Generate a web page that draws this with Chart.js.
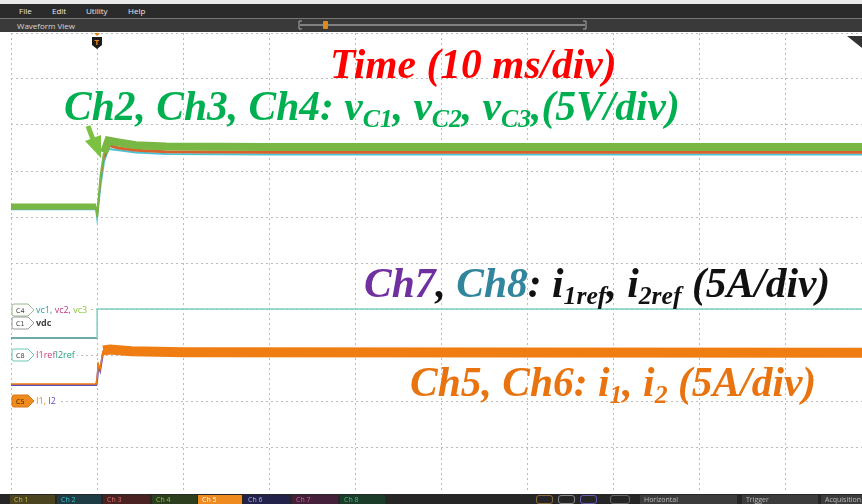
<!DOCTYPE html>
<html>
<head>
<meta charset="utf-8">
<script src="https://cdn.jsdelivr.net/npm/chart.js@4.4.1/dist/chart.umd.min.js"></script>
<style>
  body { margin: 0; width: 862px; height: 504px; overflow: hidden; background: #fff; position: relative; font-family: "Open Sans", "DejaVu Sans", sans-serif; }
  .abs { position: absolute; }
  #topStrip { left: 0; top: 0; width: 862px; height: 4px; background: #e9e9e9; }
  #menuBar { left: 0; top: 4px; width: 862px; height: 14px; background: #2b2b2b; color: #e8e8e8; font-size: 8px; line-height: 14px; }
  #menuBar span { position: absolute; top: 0; }
  #viewBar { left: 0; top: 18px; width: 862px; height: 14px; background: #3a3a3a; border-top: 1px solid #777; box-sizing: border-box; color: #d8d8d8; font-size: 8px; line-height: 13px; }
  #plotBox { left: 11px; top: 33px; width: 851px; height: 460px; }
  #bottomBar { left: 0; top: 494px; width: 862px; height: 10px; background: #262626; font-size: 7px; line-height: 10px; }
  .tab { position: absolute; top: 1px; height: 9px; line-height: 9px; padding-left: 4px; box-sizing: border-box; }
  .note { position: absolute; font-family: "Liberation Serif", "Times New Roman", serif; font-weight: bold; font-style: italic; white-space: nowrap; line-height: 1; font-size: 41.5px; }
  .note sub { font-size: 62%; vertical-align: baseline; position: relative; top: 0.28em; }
  .lbl { position: absolute; font-size: 9px; white-space: nowrap; line-height: 11px; background: #fff; padding-right: 2px; }
</style>
</head>
<body>
<div id="topStrip" class="abs"></div>
<div id="menuBar" class="abs">
  <span style="left:19px">File</span><span style="left:52px">Edit</span><span style="left:86px">Utility</span><span style="left:128px">Help</span>
</div>
<div id="viewBar" class="abs"><span style="position:absolute;left:17px">Waveform View</span></div>

<div id="plotBox" class="abs"><canvas id="scope" width="851" height="460"></canvas></div>

<svg class="abs" style="left:0;top:0" width="862" height="504">
  <!-- zoom slider -->
  <line x1="300" y1="25" x2="585" y2="25" stroke="#9a9a9a" stroke-width="1.5"/>
  <path d="M302 21 H299 V29 H302 M583 21 H586 V29 H583" fill="none" stroke="#aaa" stroke-width="1"/>
  <rect x="323" y="21" width="5" height="8" rx="1" fill="#e08a1c"/>
  <!-- trigger marker -->
  <path d="M94 33 L100 33 L97 36 Z" fill="#e8861a"/>
  <path d="M92 37 H102 V45 L97 49 L92 45 Z" fill="#1b1b1b"/>
  <text x="97" y="44.5" fill="#e8861a" font-size="7" font-weight="bold" text-anchor="middle" font-family="DejaVu Sans">T</text>
  <!-- corner triangle -->
  <path d="M847 36 H862 V48 Z" fill="#333"/>
  <!-- green arrow -->
  <line x1="88" y1="126" x2="95" y2="145" stroke="#7cc242" stroke-width="5"/>
  <path d="M85 141 L101 135 L101 158 Z" fill="#7cc242"/>
  <!-- channel badges -->
  <path d="M14 304 H28 L34 310 L28 316 H14 Q12 316 12 314 V306 Q12 304 14 304 Z" fill="#fff" stroke="#9ab88a"/>
  <text x="16" y="312.5" font-size="6.5" fill="#444" font-family="DejaVu Sans">C4</text>
  <path d="M14 317 H28 L34 323 L28 329 H14 Q12 329 12 327 V319 Q12 317 14 317 Z" fill="#fff" stroke="#9a9a9a"/>
  <text x="16" y="325.5" font-size="6.5" fill="#444" font-family="DejaVu Sans">C1</text>
  <path d="M14 349 H28 L34 355 L28 361 H14 Q12 361 12 359 V351 Q12 349 14 349 Z" fill="#fff" stroke="#6cc7b4"/>
  <text x="16" y="357.5" font-size="6.5" fill="#444" font-family="DejaVu Sans">C8</text>
  <path d="M14 395 H28 L34 401 L28 407 H14 Q12 407 12 405 V397 Q12 395 14 395 Z" fill="#ef8a1e" stroke="#d9771a"/>
  <text x="16" y="403.5" font-size="6.5" fill="#4a2a00" font-family="DejaVu Sans">C5</text>
</svg>

<div class="lbl" style="left:36px;top:304px"><span style="color:#2aa39d">vc1,</span> <span style="color:#c2387c">vc2,</span> <span style="color:#8cc63f">vc3</span></div>
<div class="lbl" style="left:36px;top:317px;color:#444;font-weight:bold">vdc</div>
<div class="lbl" style="left:36px;top:349px"><span style="color:#c2387c">I1ref</span><span style="color:#1f9e7a">I2ref</span></div>
<div class="lbl" style="left:36px;top:395px"><span style="color:#e9801c">I1,</span> <span style="color:#5b4fc8">I2</span></div>

<div class="note" style="left:330px;top:44px;color:#ff0000">Time (10 ms/div)</div>
<div class="note" style="left:64px;top:86px;color:#00b050">Ch2, Ch3, Ch4: v<sub>C1</sub>, v<sub>C2</sub>, v<sub>C3</sub>,(5V/div)</div>
<div class="note" style="left:364px;top:263px;color:#111"><span style="color:#7030a0">Ch7</span>, <span style="color:#31859c">Ch8</span>: i<sub>1ref</sub>, i<sub>2ref</sub> (5A/div)</div>
<div class="note" style="left:410px;top:362px;color:#e8730f">Ch5, Ch6: i<sub>1</sub>, i<sub>2</sub> (5A/div)</div>

<div id="bottomBar" class="abs">
  <div class="tab" style="left:10px;width:45px;background:#4a4420;color:#c9b84a">Ch 1</div>
  <div class="tab" style="left:57px;width:44px;background:#1d3c44;color:#3fc0d0">Ch 2</div>
  <div class="tab" style="left:103px;width:47px;background:#4a2222;color:#e07070">Ch 3</div>
  <div class="tab" style="left:152px;width:45px;background:#2c3e1e;color:#8cc63f">Ch 4</div>
  <div class="tab" style="left:198px;width:44px;background:#ef8a1e;color:#fff">Ch 5</div>
  <div class="tab" style="left:244px;width:46px;background:#22224a;color:#b0b0ff">Ch 6</div>
  <div class="tab" style="left:292px;width:46px;background:#45203a;color:#d060a0">Ch 7</div>
  <div class="tab" style="left:340px;width:45px;background:#1c3c2a;color:#3fbf80">Ch 8</div>
  <div class="tab" style="left:536px;width:17px;border:1px solid #8a6a3a;border-radius:3px"></div>
  <div class="tab" style="left:558px;width:17px;border:1px solid #888;border-radius:3px"></div>
  <div class="tab" style="left:580px;width:17px;border:1px solid #6a5ab0;border-radius:3px"></div>
  <div class="tab" style="left:610px;width:20px;border:1px solid #666;border-radius:3px"></div>
  <div class="tab" style="left:640px;width:97px;background:#3c3c3c;color:#bbb">Horizontal</div>
  <div class="tab" style="left:742px;width:76px;background:#3c3c3c;color:#bbb">Trigger</div>
  <div class="tab" style="left:821px;width:41px;background:#3c3c3c;color:#bbb">Acquisition</div>
</div>

<script>
// time axis in ms (trigger at 0, 10 ms/div); vertical values in screen divisions from the bottom
const timeMin = -10;
const timeMax = 88.84;
const timeTicks = [-10, 0, 10, 20, 30, 40, 50, 60, 70, 80];
const divTicks = [0, 1, 2, 3, 4, 5, 6, 7, 8, 9, 10];

// Ch2..Ch4 capacitor voltages (5 V/div)
const vcTime = [-10, -0.1, 0, 0.4, 0.8, 1.3, 2.5, 4.5, 8, 20, 88.84];
const vc1 = [6.17, 6.17, 6.0, 6.7, 7.2, 7.48, 7.45, 7.40, 7.37, 7.36, 7.36];
const vc2 = [6.20, 6.20, 6.0, 6.8, 7.3, 7.56, 7.50, 7.45, 7.42, 7.41, 7.41];
const vc3 = [6.23, 6.23, 6.0, 6.9, 7.4, 7.66, 7.62, 7.56, 7.53, 7.52, 7.52];

// Ch7/Ch8 current references (5 A/div)
const refTime = [-10, 0, 0, 88.84];
const iref = [3.37, 3.37, 4.0, 4.0];

// Ch5/Ch6 inductor currents (5 A/div)
const iTime = [-10, -0.1, 0, 0.15, 0.35, 0.7, 1.5, 4, 10, 88.84];
const i1 = [2.37, 2.37, 2.50, 2.80, 2.70, 3.10, 3.12, 3.08, 3.06, 3.05];
const i2 = [2.35, 2.35, 2.45, 2.76, 2.66, 3.06, 3.08, 3.05, 3.03, 3.03];

const pts = (t, v) => t.map((x, i) => ({ x: x, y: v[i] }));
// ripple band: wide stroke once the trace has settled, thin on the edge itself
const bandWidth = (from, wide, pre, edge) => ctx => {
  const x0 = ctx.p0.parsed.x;
  if (x0 >= from) return wide;
  return x0 < -1 ? pre : edge;
};

const datasets = [
  { label: 'vc1', data: pts(vcTime, vc1), borderColor: '#4cc3d3', borderWidth: 2, order: 5 },
  { label: 'vc2', data: pts(vcTime, vc2), borderColor: '#d8622e', borderWidth: 3,
    segment: { borderWidth: bandWidth(0.8, 3, 3, 1.5) }, order: 4 },
  { label: 'vc3', data: pts(vcTime, vc3), borderColor: '#78b743', borderWidth: 5,
    segment: { borderWidth: bandWidth(0.8, 8, 6, 2) }, order: 3 },
  { label: 'i ref', data: pts(refTime, iref), borderColor: '#6fcabb', borderWidth: 1.5,
    segment: { borderColor: ctx => ctx.p1.parsed.y > 3.5 ? '#7dd0c2' : '#3b8f8c' }, order: 6 },
  { label: 'i2', data: pts(iTime, i2), borderColor: '#5b4fc8', borderWidth: 2, order: 2 },
  { label: 'i1', data: pts(iTime, i1), borderColor: '#ef7d12', borderWidth: 1.5,
    segment: { borderWidth: bandWidth(0.7, 10, 1.5, 1.5) }, order: 1 }
];

const gridOpts = { color: '#bcbcbc', lineWidth: 1, drawTicks: false };
const dotted = { display: false, dash: [2, 3] };

new Chart(document.getElementById('scope'), {
  type: 'line',
  data: { datasets: datasets },
  options: {
    responsive: false,
    animation: false,
    layout: { padding: 0 },
    elements: { point: { radius: 0 }, line: { tension: 0, borderCapStyle: 'butt' } },
    plugins: { legend: { display: false }, tooltip: { enabled: false } },
    scales: {
      x: {
        type: 'linear', min: timeMin, max: timeMax,
        afterBuildTicks: s => { s.ticks = timeTicks.map(v => ({ value: v })); },
        ticks: { display: false },
        grid: gridOpts,
        border: dotted
      },
      y: {
        type: 'linear', min: 0, max: 10,
        afterBuildTicks: s => { s.ticks = divTicks.map(v => ({ value: v })); },
        ticks: { display: false },
        grid: gridOpts,
        border: dotted
      }
    }
  }
});
</script>
</body>
</html>
